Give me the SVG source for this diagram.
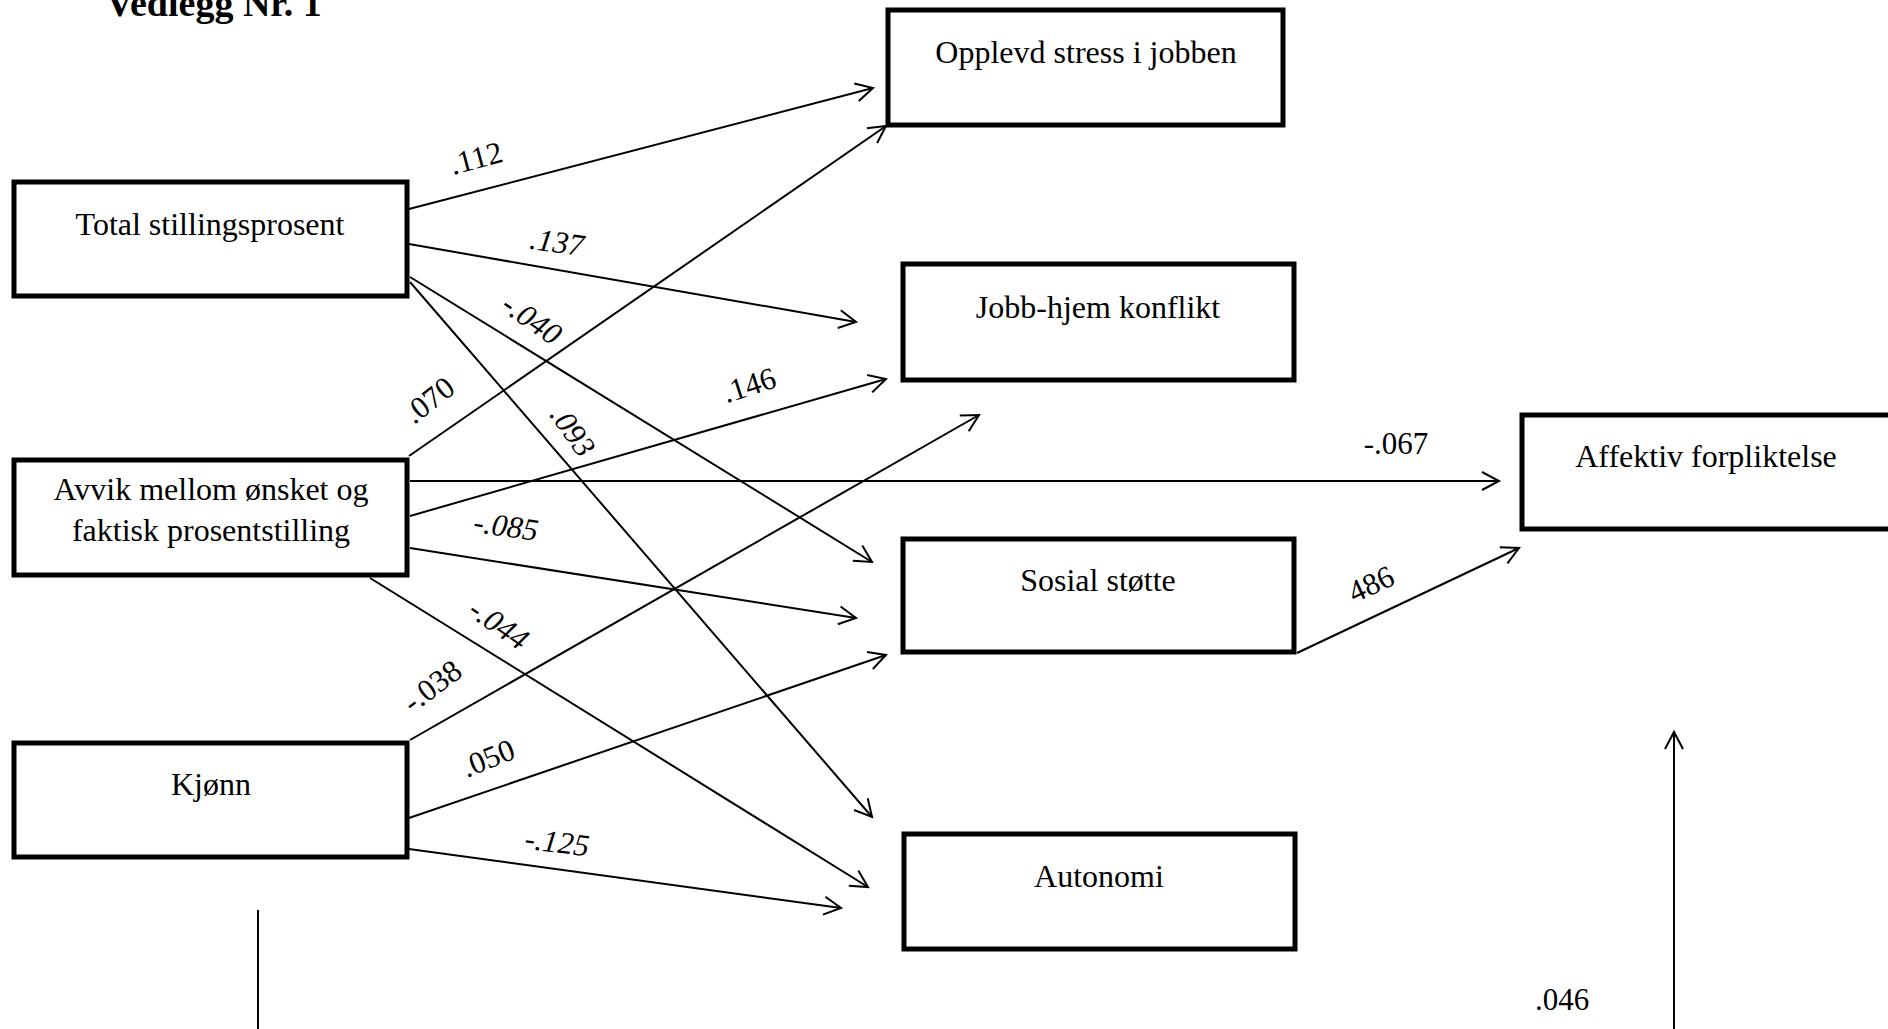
<svg xmlns="http://www.w3.org/2000/svg" width="1888" height="1029" viewBox="0 0 1888 1029">
<style>
  .box { fill: #fff; stroke: #000; stroke-width: 5; }
  .nt { font-family: "Liberation Serif", "Times New Roman", serif; font-size: 32px; fill: #000; text-anchor: middle; }
  .lb { font-family: "Liberation Serif", "Times New Roman", serif; font-size: 31px; fill: #000; text-anchor: middle; dominant-baseline: central; }
  .it { font-style: italic; }
  .ln { stroke: #000; stroke-width: 2; fill: none; }
  .ar { marker-end: url(#arr); }
  .title { font-family: "Liberation Serif", "Times New Roman", serif; font-size: 38px; font-weight: bold; fill: #000; }
</style>
<defs>
  <marker id="arr" markerUnits="userSpaceOnUse" markerWidth="40" markerHeight="40" refX="0" refY="0" viewBox="-20 -20 40 40" orient="auto" overflow="visible">
    <path d="M-17,-9 L0,0 L-17,9" fill="none" stroke="#000" stroke-width="2"/>
  </marker>
</defs>
<rect width="1888" height="1029" fill="#fff"/>
<text class="title" x="106" y="16">Vedlegg Nr. 1</text>

<g id="connectors">
  <line class="ln ar" x1="409" y1="209" x2="873" y2="88"/>
  <line class="ln ar" x1="409" y1="244" x2="856" y2="322"/>
  <line class="ln ar" x1="410" y1="277" x2="872" y2="562"/>
  <line class="ln ar" x1="410" y1="282" x2="872" y2="817"/>
  <line class="ln ar" x1="409" y1="456" x2="886" y2="126"/>
  <line class="ln ar" x1="410" y1="516" x2="886" y2="379"/>
  <line class="ln ar" x1="410" y1="481" x2="1499" y2="481"/>
  <line class="ln ar" x1="410" y1="548" x2="856" y2="618"/>
  <line class="ln ar" x1="370" y1="578" x2="868" y2="887"/>
  <line class="ln ar" x1="410" y1="740" x2="979" y2="415"/>
  <line class="ln ar" x1="409" y1="818" x2="886" y2="655"/>
  <line class="ln ar" x1="409" y1="849" x2="841" y2="908"/>
  <line class="ln ar" x1="1297" y1="653" x2="1519" y2="548"/>
  <line class="ln ar" x1="1674" y1="1029" x2="1674" y2="732"/>
  <line class="ln" x1="258" y1="910" x2="258" y2="1029"/>

  <text class="lb" transform="translate(476,158) rotate(-15)">.112</text>
  <text class="lb it" transform="translate(557,242) rotate(8)">.137</text>
  <text class="lb it" transform="translate(532,319) rotate(35)">-.040</text>
  <text class="lb" transform="translate(429,400) rotate(-38)">.070</text>
  <text class="lb it" transform="translate(573,431) rotate(55)">.093</text>
  <text class="lb" transform="translate(749,385) rotate(-18)">.146</text>
  <text class="lb it" transform="translate(506,526) rotate(8)">-.085</text>
  <text class="lb it" transform="translate(499,624) rotate(35)">-.044</text>
  <text class="lb" transform="translate(432,686) rotate(-37)">-.038</text>
  <text class="lb" transform="translate(488,758) rotate(-22)">.050</text>
  <text class="lb it" transform="translate(557,842) rotate(7)">-.125</text>
  <text class="lb" transform="translate(1396,443)">-.067</text>
  <text class="lb" transform="translate(1371,584) rotate(-25)">486</text>
  <text class="lb" transform="translate(1562,999)">.046</text>
</g>

<g id="n-opplevd">
  <rect class="box" x="888" y="10" width="395" height="115"/>
  <text class="nt" x="1086" y="63">Opplevd stress i jobben</text>
</g>
<g id="n-jobb">
  <rect class="box" x="903" y="264" width="391" height="116"/>
  <text class="nt" x="1098" y="318">Jobb-hjem konflikt</text>
</g>
<g id="n-sosial">
  <rect class="box" x="903" y="539" width="391" height="113"/>
  <text class="nt" x="1098" y="591">Sosial støtte</text>
</g>
<g id="n-autonomi">
  <rect class="box" x="904" y="834" width="391" height="115"/>
  <text class="nt" x="1099" y="887">Autonomi</text>
</g>
<g id="n-affektiv">
  <rect class="box" x="1522" y="415" width="380" height="114"/>
  <text class="nt" x="1706" y="467">Affektiv forpliktelse</text>
</g>
<g id="n-total">
  <rect class="box" x="14" y="182" width="393" height="114"/>
  <text class="nt" x="210" y="235">Total stillingsprosent</text>
</g>
<g id="n-avvik">
  <rect class="box" x="14" y="460" width="393" height="115"/>
  <text class="nt" x="211" y="500">Avvik mellom ønsket og</text>
  <text class="nt" x="211" y="541">faktisk prosentstilling</text>
</g>
<g id="n-kjonn">
  <rect class="box" x="14" y="743" width="393" height="114"/>
  <text class="nt" x="211" y="795">Kjønn</text>
</g>
</svg>
